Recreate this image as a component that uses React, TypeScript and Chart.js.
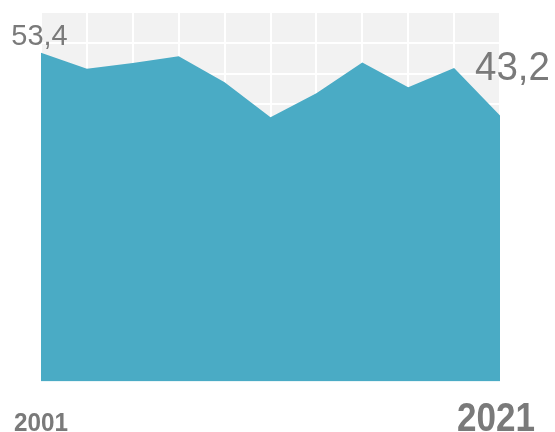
import React, { useEffect, useRef } from "react";
import { Chart, registerables } from "chart.js";

Chart.register(...registerables);

const years: string[] = ["2001", "2003", "2005", "2007", "2009", "2011", "2013", "2015", "2017", "2019", "2021"];
const values: number[] = [53.4, 50.8, 51.7, 52.8, 48.6, 42.9, 46.8, 51.8, 47.8, 50.9, 43.2];
const firstLabel = "53,4";
const lastLabel = "43,2";
const yMin = 0;
const yMax = 60;
const yStep = 5;

const AREA = "#4aabc5";
const TEXT = "#7a7a7a";
const PLOT_BG = "#f2f2f2";

function drawScaledText(
  ctx: CanvasRenderingContext2D,
  text: string,
  font: string,
  cx: number,
  baseline: number,
  targetWidth: number | null
) {
  ctx.save();
  ctx.font = font;
  ctx.fillStyle = TEXT;
  ctx.textBaseline = "alphabetic";
  ctx.textAlign = "center";
  const w = ctx.measureText(text).width;
  const sx = targetWidth ? targetWidth / w : 1;
  ctx.translate(cx, baseline);
  ctx.scale(sx, 1);
  ctx.fillText(text, 0, 0);
  ctx.restore();
}

const bgPlugin = {
  id: "plotBg",
  beforeDraw(chart: any) {
    const { ctx, chartArea } = chart;
    if (!chartArea) return;
    ctx.save();
    ctx.fillStyle = PLOT_BG;
    ctx.fillRect(chartArea.left, chartArea.top, chartArea.right - chartArea.left, chartArea.bottom - chartArea.top);
    ctx.restore();
  },
};

const labelPlugin = {
  id: "labels",
  afterDraw(chart: any) {
    const { ctx } = chart;
    const meta = chart.getDatasetMeta(0);
    const pts = meta.data;
    if (!pts || pts.length === 0) return;
    const p0 = pts[0];
    const pN = pts[pts.length - 1];
    // value labels
    drawScaledText(ctx, firstLabel, "29px 'Liberation Sans', Arial, sans-serif", p0.x - 1.5, p0.y - 8, null);
    drawScaledText(ctx, lastLabel, "40px 'Liberation Sans', Arial, sans-serif", pN.x + 12.5, pN.y - 35.5, 75);
    // year labels
    const xs = chart.scales.x;
    const x0 = xs.getPixelForValue(0);
    const xN = xs.getPixelForValue(years.length - 1);
    drawScaledText(ctx, years[0], "bold 26px 'Liberation Sans', Arial, sans-serif", x0, 430.5, 54);
    drawScaledText(ctx, years[years.length - 1], "bold 40px 'Liberation Sans', Arial, sans-serif", xN - 4, 430.5, 78);
  },
};

export default function App() {
  const canvasRef = useRef<HTMLCanvasElement | null>(null);

  useEffect(() => {
    document.body.style.margin = "0";
    const canvas = canvasRef.current;
    if (!canvas) return;
    const chart = new Chart(canvas, {
      type: "line",
      data: {
        labels: years,
        datasets: [
          {
            data: values,
            fill: "origin",
            backgroundColor: AREA,
            borderColor: AREA,
            borderWidth: 0,
            pointRadius: 0,
            pointHoverRadius: 0,
            tension: 0,
          },
        ],
      },
      options: {
        animation: false,
        responsive: true,
        maintainAspectRatio: false,
        layout: { padding: { left: 41, top: 12, right: 55, bottom: 50.5 } },
        plugins: {
          legend: { display: false },
          tooltip: { enabled: false },
          title: { display: false },
        },
        scales: {
          x: {
            offset: false,
            grid: { color: "#ffffff", lineWidth: 2, drawTicks: false },
            border: { display: false },
            ticks: { display: false },
          },
          y: {
            min: yMin,
            max: yMax,
            ticks: { display: false, stepSize: yStep },
            grid: { color: "#ffffff", lineWidth: 2, drawTicks: false },
            border: { display: false },
          },
        },
      },
      plugins: [bgPlugin, labelPlugin],
    });
    return () => chart.destroy();
  }, []);

  return (
    <div style={{ width: 555, height: 432, position: "relative", background: "#ffffff" }}>
      <canvas ref={canvasRef} />
    </div>
  );
}
